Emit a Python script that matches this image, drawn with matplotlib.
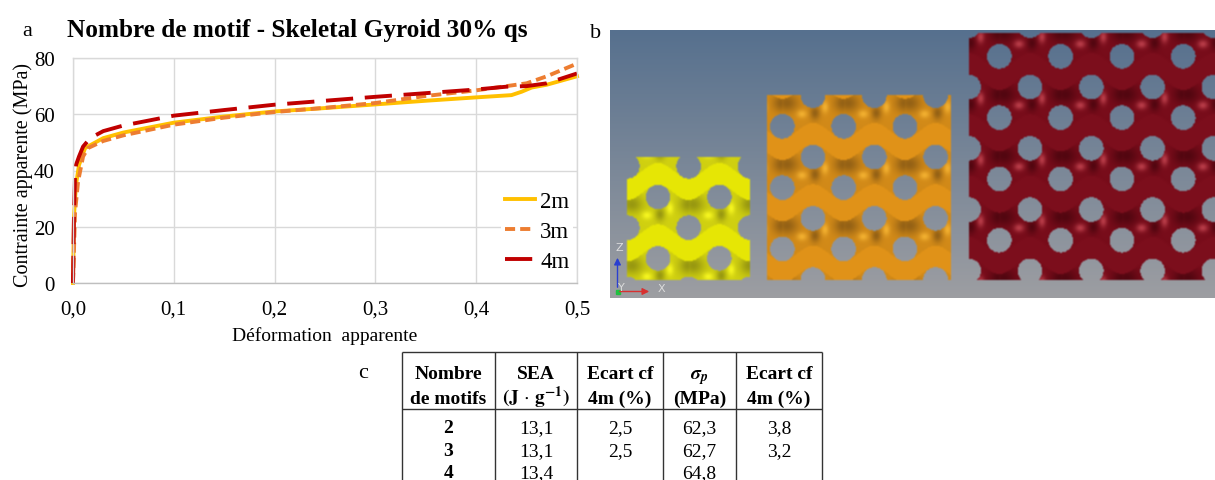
import numpy as np
import matplotlib
matplotlib.use("Agg")
import matplotlib.pyplot as plt

plt.rcParams['font.family'] = ['Liberation Serif', 'DejaVu Serif']
plt.rcParams['mathtext.fontset'] = 'stix'

W, H = 1215, 481

title = "Nombre de motif - Skeletal Gyroid 30% qs"
xlabel = "Déformation  apparente"
ylabel = "Contrainte apparente (MPa)"
xticks = [0.0, 0.1, 0.2, 0.3, 0.4, 0.5]
xticklabels = ["0,0", "0,1", "0,2", "0,3", "0,4", "0,5"]
yticks = [0, 20, 40, 60, 80]

x2 = [0, 0.001, 0.003, 0.006, 0.012, 0.03, 0.05, 0.1, 0.15, 0.2, 0.25, 0.3, 0.35, 0.4, 0.435, 0.445, 0.455, 0.47, 0.5]
y2 = [0, 24, 35, 42, 48, 51.5, 53.5, 57, 59.2, 61, 62.2, 63.5, 64.8, 66, 66.8, 68, 69.5, 70.5, 73.5]
x3 = [0, 0.001, 0.002, 0.005, 0.01, 0.015, 0.03, 0.05, 0.1, 0.15, 0.2, 0.25, 0.3, 0.35, 0.4, 0.42, 0.45, 0.47, 0.5]
y3 = [0, 12, 25, 36, 45, 48, 50.5, 52.5, 56.3, 58.8, 60.8, 62.3, 64, 66.5, 68.5, 69.5, 71, 73.5, 78]
x4 = [0, 0.001, 0.002, 0.003, 0.006, 0.01, 0.017, 0.03, 0.05, 0.1, 0.15, 0.2, 0.25, 0.3, 0.35, 0.4, 0.43, 0.45, 0.47, 0.5]
y4 = [0, 25, 38, 42, 45, 48.5, 51.5, 54, 56, 59.5, 61.5, 63.4, 64.8, 66.2, 67.5, 68.8, 69.8, 70, 71, 74.5]

table_rows = [["2", "13,1", "2,5", "62,3", "3,8"],
              ["3", "13,1", "2,5", "62,7", "3,2"],
              ["4", "13,4", "", "64,8", ""]]
table_head1 = ["Nombre", "SEA", "Ecart cf", r"$\mathbfit{\sigma}_{\mathbfit{p}}$", "Ecart cf"]
table_head2 = ["de motifs", r"$\mathbf{(J}\,\cdot\,\mathbf{g^{-1})}$", "4m (%)", "(MPa)", "4m (%)"]

fig = plt.figure(figsize=(W / 100, H / 100), dpi=100)
ov = fig.add_axes([0, 0, 1, 1], zorder=0)
ov.set_xlim(0, W)
ov.set_ylim(H, 0)
ov.axis('off')

# ---------- panel b: synthetic render ----------
X0, X1, Y0, Y1 = 610, 1215, 31, 299
xx, yy = np.meshgrid(np.arange(X0, X1) + .5, np.arange(Y0, Y1) + .5)
t = ((yy - Y0) / (Y1 - Y0))[..., None]
img = (1 - t) * np.array([0x56, 0x70, 0x8e]) + t * np.array([0x9d, 0x9e, 0xa2])
P = 61.3


def gyroid(img, px, py, box, band, base, dark, light):
    xa, xb, ya, yb = box
    inside = (xx >= xa) & (xx < xb) & (yy >= ya) & (yy < yb)
    u = 2 * np.pi * (xx - px) / P
    c = ((yy - py - 7.5 + 7.5 * np.cos(u)) % P)
    isband = c < 22
    col = np.ones(img.shape) * np.array(base, float)
    du = (xx - px + P / 2) % P - P / 2
    dv = (yy - py + P / 2) % P - P / 2
    def spot(a, b, sa, sb):
        return np.exp(-((du - a) / sa) ** 2 - ((dv - b) / sb) ** 2)
    d = 0.7 * np.clip(spot(-26, -20, 11, 9) + spot(2, -10, 5, 7) + spot(30, -20, 9, 9), 0, 1)[..., None]
    l = np.clip(spot(-11, -9, 5, 4) + spot(12, -16, 3.5, 6), 0, 1)[..., None]
    col = col * (1 - d) + np.array(dark, float) * d
    col = col * (1 - l) + np.array(light, float) * l
    col[isband] = band
    r2 = 12.3 ** 2
    hole = np.zeros(xx.shape, bool)
    for ox, oy in ((0, 34), (P / 2, 34 + P / 2)):
        hu = (xx - px - ox + P / 2) % P - P / 2
        hv = (yy - py - oy + P / 2) % P - P / 2
        hole |= hu ** 2 + hv ** 2 < r2
    mask = inside & ~hole
    img[mask] = col[mask]


gyroid(img, 658, 164, (627, 750, 158, 281), (0xe6, 0xe6, 0x05), (0xd0, 0xd0, 0x10), (0x80, 0x80, 0x10), (0xf6, 0xf6, 0x20))
gyroid(img, 813, 124, (767, 951, 96, 281), (0xe0, 0x92, 0x18), (0xd2, 0x8a, 0x18), (0x7a, 0x50, 0x14), (0xf2, 0xb0, 0x30))
gyroid(img, 1030, 54, (969, 1216, 34, 281), (0x7c, 0x0e, 0x1c), (0x78, 0x0c, 0x1a), (0x42, 0x04, 0x0c), (0xb8, 0x3c, 0x48))

ker = np.array([1, 2, 1]) / 4
pad = np.pad(img, ((1, 1), (1, 1), (0, 0)), mode='edge')
pad = (pad[:-2] * ker[0] + pad[1:-1] * ker[1] + pad[2:] * ker[2])
pad = (pad[:, :-2] * ker[0] + pad[:, 1:-1] * ker[1] + pad[:, 2:] * ker[2])
ov.imshow(pad.astype(np.uint8), extent=(X0, X1, Y1, Y0), aspect='auto', interpolation='nearest')
ov.set_xlim(0, W)
ov.set_ylim(H, 0)

# axis triad
ov.annotate('', xy=(617.5, 256), xytext=(617.5, 291), arrowprops=dict(arrowstyle='-|>', color='#2a3fd0', lw=1, mutation_scale=10))
ov.annotate('', xy=(652, 292.5), xytext=(617, 292.5), arrowprops=dict(arrowstyle='-|>', color='#d83030', lw=1, mutation_scale=10))
ov.plot([617.5], [292.5], 's', color='#20c040', ms=3)
for s, px_, py_ in (("Z", 619.5, 248), ("Y", 621, 288), ("X", 661, 289)):
    ov.text(px_, py_, s, color='#dcdcdc', fontsize=8, ha='center', va='center', family='DejaVu Sans')

# panel letters
ov.text(27, 32, "a", fontsize=16, ha='center', va='center')
ov.text(596, 34, "b", fontsize=16, ha='center', va='center')
ov.text(363, 374, "c", fontsize=16, ha='center', va='center')
ov.text(67, 30, title, fontsize=18.2, fontweight='bold', ha='left', va='center')

# ---------- table ----------
col_x = [402, 495, 577, 663, 736, 822]
for x in col_x:
    ov.plot([x, x], [353, H + 2], color='#333333', lw=1.0, solid_capstyle='butt', clip_on=True)
for y in (353, 410):
    ov.plot([col_x[0], col_x[-1]], [y, y], color='#333333', lw=1.0, solid_capstyle='butt')
centers = [(a + b) / 2 for a, b in zip(col_x[:-1], col_x[1:])]
for c, a, b in zip(centers, table_head1, table_head2):
    ov.text(c, 379, a, fontsize=14, fontweight='bold', ha='center', va='baseline')
    ov.text(c, 404, b, fontsize=14, fontweight='bold', ha='center', va='baseline')
for row, y in zip(table_rows, (433, 456.5, 478)):
    for j, (c, s) in enumerate(zip(centers, row)):
        ov.text(c, y, s, fontsize=14, fontweight='bold' if j == 0 else 'normal', ha='center', va='baseline')
ov.set_xlim(0, W)
ov.set_ylim(H, 0)

# ---------- panel a: chart ----------
L, R, T, B = 73, 577, 59, 284
ax = fig.add_axes([L / W, 1 - B / H, (R - L) / W, (B - T) / H], zorder=2)
ax.patch.set_alpha(0)
ax.plot(x2, y2, color='#ffc000', lw=2.8, label='2m', clip_on=False)
ax.plot(x3, y3, color='#ed7d31', lw=2.8, ls=(0, (2.6, 1.3)), label='3m', clip_on=False)
ax.plot(x4, y4, color='#c00000', lw=2.8, ls=(0, (7, 3)), label='4m', clip_on=False)
ax.set_xlim(0, 0.5)
ax.set_ylim(0, 80)
ax.set_xticks(xticks)
ax.set_xticklabels(xticklabels)
ax.set_yticks(yticks)
ax.grid(True, color='#d9d9d9', lw=1)
ax.set_axisbelow(True)
ax.tick_params(length=0, labelsize=15)
ax.tick_params(axis='x', pad=12)
ax.tick_params(axis='y', pad=13)
for n, s in ax.spines.items():
    s.set_color('#d9d9d9')
    s.set_linewidth(1)
ax.spines['bottom'].set_color('#bfbfbf')
ax.set_xlabel(xlabel, fontsize=14)
ax.set_ylabel(ylabel, fontsize=14.5)
ax.xaxis.set_label_coords((325 - L) / (R - L), (B - 336) / (B - T))
ax.yaxis.set_label_coords((23 - L) / (R - L), (B - 175) / (B - T))
ax.xaxis.label.set_va('center')
ax.yaxis.label.set_va('center')
leg = ax.legend(loc='lower right', bbox_to_anchor=(0.992, 0.035), fontsize=16.5, frameon=True, facecolor='white',
                edgecolor='none', framealpha=1, handlelength=1.3, handletextpad=0.25, labelspacing=0.39,
                borderpad=0.15, borderaxespad=0)

fig.savefig('out.png', dpi=100)
